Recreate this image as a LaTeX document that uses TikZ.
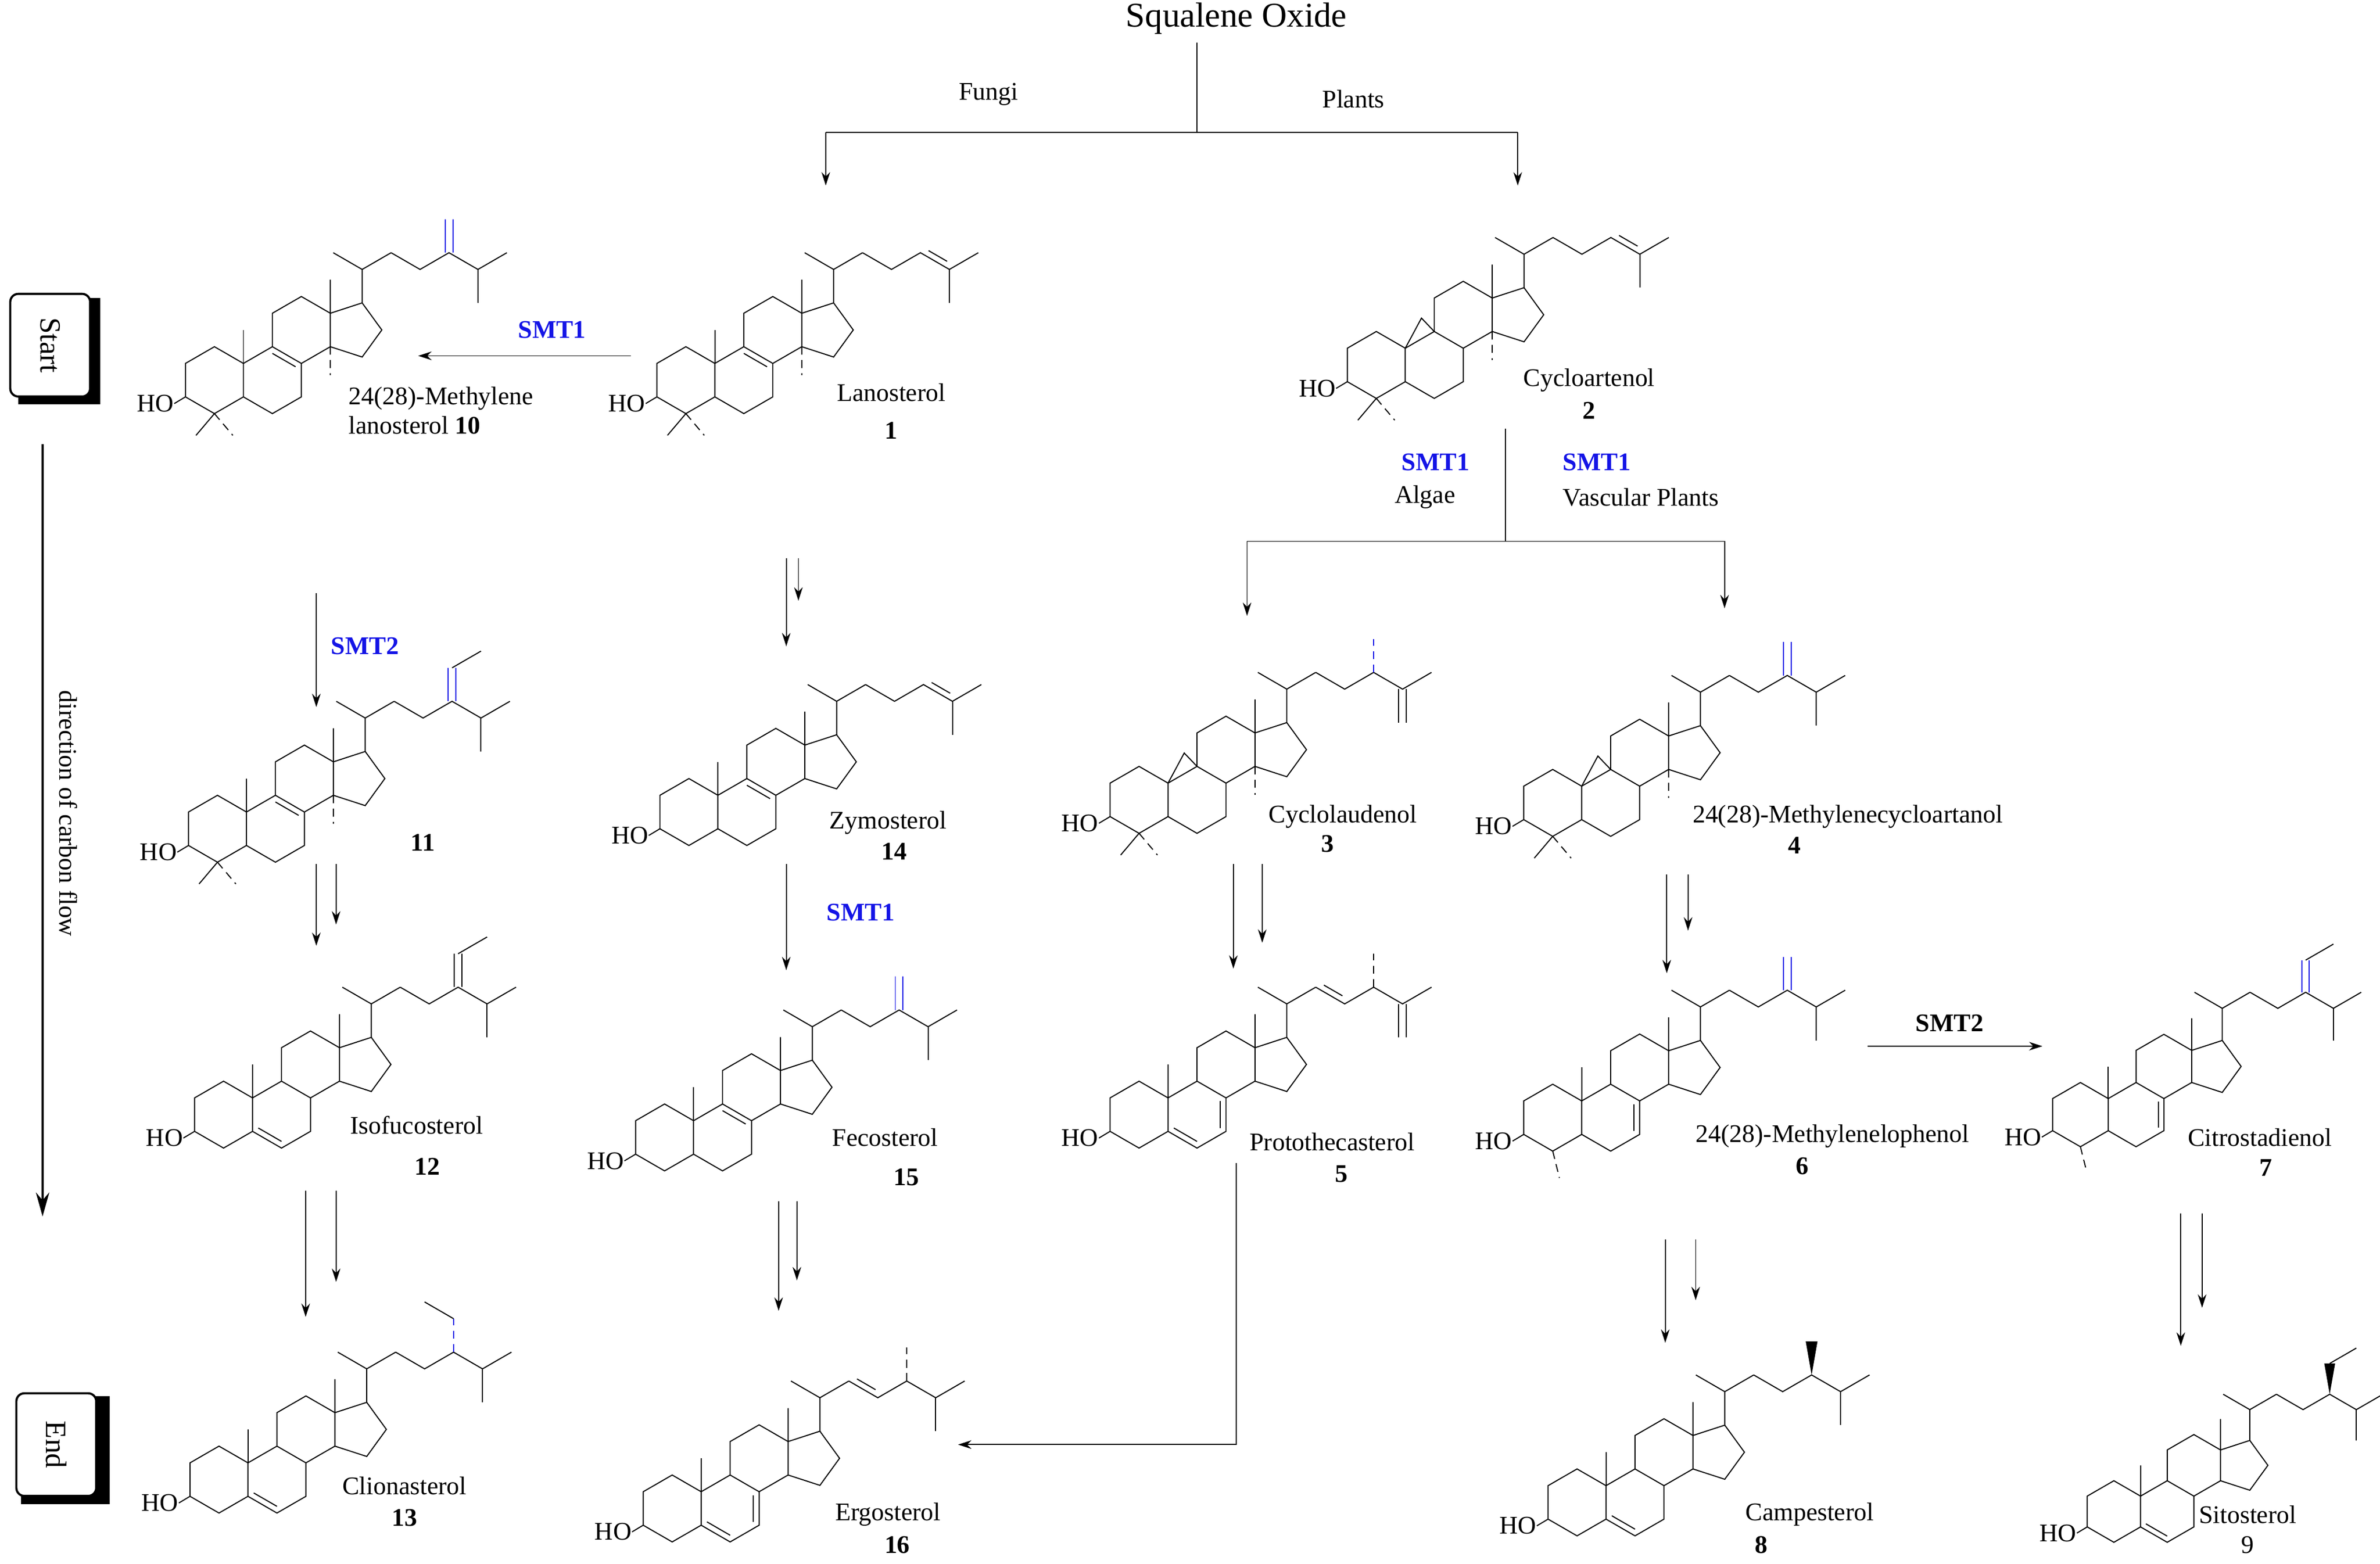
\documentclass[tikz,border=0pt]{standalone}
\usepackage{fontspec}
\setmainfont{Liberation Serif}
\usetikzlibrary{calc,arrows.meta}
\definecolor{smt}{RGB}{20,20,230}
\tikzset{x=0.02cm,y=-0.02cm, line width=0.55pt,
 arr/.style={-{Stealth[length=5pt,width=3.2pt]}},
 mol/.style 2 args={shift={(#1,#2)},scale=1.1,yscale=-1},
 lab/.style={font=\fontsize{9.5}{11}\selectfont, inner sep=0},
 num/.style={font=\fontsize{9.5}{11}\selectfont\bfseries, inner sep=0},
 smtl/.style={text=smt,font=\fontsize{9.5}{11}\selectfont\bfseries, inner sep=0},
 box/.style={draw,line width=0.8pt,rounded corners=3pt,fill=white,minimum width=1.05cm,minimum height=1.35cm}}
\newcommand\stcore{%
\coordinate (c1) at (0,20); \coordinate (c2) at (-17.32,10); \coordinate (c3) at (-17.32,-10);
\coordinate (c4) at (0,-20); \coordinate (c5) at (17.32,-10); \coordinate (c10) at (17.32,10);
\coordinate (c6) at (34.64,-20); \coordinate (c7) at (51.96,-10); \coordinate (c8) at (51.96,10);
\coordinate (c9) at (34.64,20); \coordinate (c11) at (34.64,40); \coordinate (c12) at (51.96,50);
\coordinate (c13) at (69.28,40); \coordinate (c14) at (69.28,20); \coordinate (c15) at (88.30,13.82);
\coordinate (c16) at (100.05,30); \coordinate (c17) at (88.30,46.18); \coordinate (c18) at (69.28,60);
\coordinate (c19) at (17.32,30); \coordinate (c20) at (88.30,66.18); \coordinate (c21) at (71,76.18);
\coordinate (c22) at (105.6,76.18); \coordinate (c23) at (122.9,66.18); \coordinate (c24) at (140.2,76.18);
\coordinate (c25) at (157.5,66.18); \coordinate (c26) at (174.8,76.18); \coordinate (c27) at (157.5,46.18);
\coordinate (c28) at (140.2,96.18); \coordinate (c29) at (157.5,106.18); \coordinate (c29b) at (122.9,106.18);
\coordinate (cA) at (0,0); \coordinate (cB) at (34.64,0); \coordinate (cC) at (51.96,30);
\draw (c1)--(c2)--(c3)--(c4)--(c5)--(c10)--cycle;
\draw (c5)--(c6)--(c7)--(c8)--(c9)--(c10);
\draw (c9)--(c11)--(c12)--(c13)--(c14)--(c8);
\draw (c13)--(c17)--(c16)--(c15)--(c14);
\draw (c13)--(c18) (c17)--(c20)--(c21) (c20)--(c22);
\draw (c3)--(-24,-14) node[anchor=east,lab]{HO};}
\newcommand\rin[3]{\draw ($(#1)!.2!(#3)$)--($(#2)!.2!(#3)$);}
\newcommand\mnn{\draw (c10)--(c19);}
\newcommand\cyc{\draw (c10)--(27,28)--(c9);}
\newcommand\dmf{\draw (c4)--(-11,-33); \draw[densely dashed] (c4)--(11,-33);}
\newcommand\mfa{\draw[densely dashed] (c4)--(4,-36);}
\newcommand\mfo{\draw[densely dashed] (c14)--(69.28,3);}
\newcommand\chainx{\draw (c22)--(c23)--(c24)--(c25)--(c26);}
\newcommand\chain{\chainx\draw (c25)--(c27);}
\newcommand\dbo[3]{\draw ($(#1)!0.18!(#2)!#3!90:(#2)$) -- ($(#2)!0.18!(#1)!#3!-90:(#1)$);}
\newcommand\dbs[3]{\draw[#3] ($(#1)!1.3pt!90:(#2)$)--($(#2)!1.3pt!-90:(#1)$) ($(#1)!1.3pt!-90:(#2)$)--($(#2)!1.3pt!90:(#1)$);}
\newcommand\wdg[2]{\fill (#1)--($(#2)!2pt!90:(#1)$)--($(#2)!2pt!-90:(#1)$)--cycle;}
\newcommand\darr[5]{\draw[arr] (#1,#3)--(#1,#4); \draw[arr] (#2,#3)--(#2,#5);}
\begin{document}
\begin{tikzpicture}
\useasboundingbox (0,0) rectangle (1565,1028.2);
% top
\node[font=\fontsize{13}{15}\selectfont,inner sep=0] (sq) at (813,12) {Squalene Oxide};
\coordinate (t1) at (787,28); \coordinate (t2) at (787,87);
\coordinate (tl) at (543,87); \coordinate (tr) at (998,87);
\draw (t1)--(t2) (tl)--(tr);
\draw[arr] (tl)--(543,122); \draw[arr] (tr)--(998,122);
\node[lab] (fu) at (650,62) {Fungi};
\node[lab] (pl) at (890,65) {Plants};
% start / end
\fill (12,196) rectangle (66,266);
\node[box] (st) at (33,227) {}; \node[lab,rotate=-90] at (st) {\fontsize{11}{12}\selectfont Start};
\fill (14,918) rectangle (72,989);
\node[box] (en) at (37,950) {}; \node[lab,rotate=-90] at (en) {\fontsize{11}{12}\selectfont End};
\draw[-{Stealth[length=9pt,width=5pt]},line width=0.8pt] (28,292)--(28,800);
\node[lab,rotate=-90] (dir) at (45,535) {direction of carbon flow};
% SMT1 lanosterol -> 10
\draw[arr] (415,234)--(275,234); \node[smtl] at (363,217) {SMT1};
% cycloartenol branch
\draw (990,282)--(990,356) (820,356)--(1134,356);
\draw[arr] (820,356)--(820,405); \draw[arr] (1134,356)--(1134,400);
\node[smtl] at (944,304) {SMT1}; \node[lab] at (937,327) {Algae};
\node[smtl] at (1050,304) {SMT1}; \node[lab] at (1079,327) {Vascular Plants};
% arrows
\draw[arr] (208,390)--(208,465); \node[smtl] at (240,425) {SMT2};
\darr{517}{525}{367}{425}{395}
\darr{208}{221}{568}{622}{608}
\draw[arr] (517,568)--(517,638); \node[smtl] at (566,600) {SMT1};
\darr{811}{830}{568}{637}{620}
\darr{1096}{1110}{575}{640}{612}
\draw[arr] (1228,688)--(1343,688); \node[num] at (1282,673) {SMT2};
\darr{201}{221}{783}{866}{843}
\darr{512}{524}{790}{862}{842}
\draw[arr] (813,765)--(813,950)--(630,950);
\darr{1095}{1115}{815}{883}{855}
\darr{1434}{1448}{798}{885}{860}
% ---- molecules ----
% 10
\begin{scope}[mol={141}{250}] \stcore\mnn\dmf\mfo\rin{c8}{c9}{cB}\chain\dbs{c24}{c28}{smt} \end{scope}
\node[lab,align=left,anchor=west] at (229,270) {24(28)-Methylene\\lanosterol \textbf{10}};
% 1
\begin{scope}[mol={451}{250}] \stcore\mnn\dmf\mfo\rin{c8}{c9}{cB}\chain\dbo{c24}{c25}{-2pt} \end{scope}
\node[lab] at (586,258) {Lanosterol}; \node[num] at (586,283) {1};
% 2
\begin{scope}[mol={905}{240}] \stcore\cyc\dmf\mfo\chain\dbo{c24}{c25}{-2pt} \end{scope}
\node[lab] at (1045,250) {Cycloartenol}; \node[num] at (1045,270) {2};
% 11
\begin{scope}[mol={143}{545}] \stcore\mnn\dmf\mfo\rin{c8}{c9}{cB}\chain\dbs{c24}{c28}{smt}\draw (c28)--(c29); \end{scope}
\node[num] at (278,554) {11};
% 14
\begin{scope}[mol={453}{534}] \stcore\mnn\rin{c8}{c9}{cB}\chain\dbo{c24}{c25}{-2pt} \end{scope}
\node[lab] at (584,541) {Zymosterol}; \node[num] at (588,560) {14};
% 3
\begin{scope}[mol={749}{526}] \stcore\cyc\dmf\mfo\chainx\draw[densely dashed,smt] (c24)--(c28);\dbs{c25}{c27}{} \end{scope}
\node[lab] at (883,537) {Cyclolaudenol}; \node[num] at (873,555) {3};
% 4
\begin{scope}[mol={1021}{528}] \stcore\cyc\dmf\mfo\chain\dbs{c24}{c28}{smt} \end{scope}
\node[lab] at (1215,537) {24(28)-Methylenecycloartanol}; \node[num] at (1180,556) {4};
% 12
\begin{scope}[mol={147}{733}] \stcore\mnn\rin{c5}{c6}{cB}\chain\dbs{c24}{c28}{}\draw (c28)--(c29); \end{scope}
\node[lab] at (274,740) {Isofucosterol}; \node[num] at (281,767) {12};
% 15
\begin{scope}[mol={437}{748}] \stcore\mnn\rin{c8}{c9}{cB}\chain\dbs{c24}{c28}{smt} \end{scope}
\node[lab] at (582,748) {Fecosterol}; \node[num] at (596,774) {15};
% 5
\begin{scope}[mol={749}{733}] \stcore\mnn\rin{c5}{c6}{cB}\rin{c7}{c8}{cB}\chainx\dbo{c22}{c23}{-2pt}\draw[densely dashed] (c24)--(c28);\dbs{c25}{c27}{} \end{scope}
\node[lab] at (876,751) {Protothecasterol}; \node[num] at (882,772) {5};
% 6
\begin{scope}[mol={1021}{735}] \stcore\mnn\mfa\rin{c7}{c8}{cB}\chain\dbs{c24}{c28}{smt} \end{scope}
\node[lab] at (1205,747) {24(28)-Methylenelophenol}; \node[num] at (1185,767) {6};
% 7
\begin{scope}[mol={1368}{733},scale=0.96] \stcore\mnn\mfa\rin{c7}{c8}{cB}\chain\dbs{c24}{c28}{smt}\draw (c28)--(c29); \end{scope}
\node[lab] at (1486,748) {Citrostadienol}; \node[num] at (1490,768) {7};
% 13
\begin{scope}[mol={144}{973}] \stcore\mnn\rin{c5}{c6}{cB}\chain\draw[densely dashed,smt] (c24)--(c28);\draw (c28)--(c29b); \end{scope}
\node[lab] at (266,977) {Clionasterol}; \node[num] at (266,998) {13};
% 16
\begin{scope}[mol={442}{992}] \stcore\mnn\rin{c5}{c6}{cB}\rin{c7}{c8}{cB}\chainx\draw (c25)--(c27);\dbo{c22}{c23}{-2pt}\draw[densely dashed] (c24)--(c28); \end{scope}
\node[lab] at (584,996) {Ergosterol}; \node[num] at (590,1016) {16};
% 8
\begin{scope}[mol={1037}{988}] \stcore\mnn\rin{c5}{c6}{cB}\chain\wdg{c24}{c28} \end{scope}
\node[lab] at (1190,996) {Campesterol}; \node[num] at (1158,1016) {8};
% 9
\begin{scope}[mol={1390}{994},scale=0.92] \stcore\mnn\rin{c5}{c6}{cB}\chain\wdg{c24}{c28}\draw (c28)--(c29); \end{scope}
\node[lab] at (1478,996) {Sitosterol}; \node[lab] at (1478,1016) {9};
\end{tikzpicture}
\end{document}
